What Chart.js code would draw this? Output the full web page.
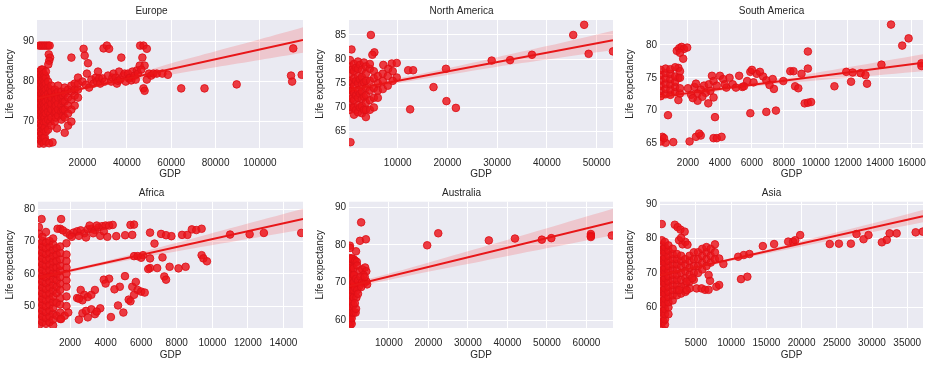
<!DOCTYPE html>
<html>
<head>
<meta charset="utf-8">
<script src="https://cdn.jsdelivr.net/npm/chart.js@4.4.1/dist/chart.umd.min.js"></script>
<style>
  body { margin: 0; background: #fff; width: 937px; height: 368px; position: relative; overflow: hidden; }
</style>
</head>
<body>
<script>
// GDP vs life expectancy, one regplot per continent
const regions = ["Europe", "North America", "South America", "Africa", "Australia", "Asia"];

// scatter points [GDP, life expectancy]
const europePts = [
  [500,89],[1300,89],[2100,89],[2900,89],[3700,89],[4500,89],[5200,89],
  [4800,86.8],[5400,86],[5000,85.2],[4600,84.3],
  [500,64.5],[500,66.5],[500,68.5],[500,70.5],[500,72],[500,73.5],[500,75],[500,76.5],[500,78],[500,79.5],[500,81],[500,82.5],
  [1000,65.5],[1000,67.5],[1000,69.5],[1000,71.5],[1000,73],[1000,74.5],[1000,76],[1000,77.5],[1000,79],[1000,80.5],[1000,82],
  [1500,65],[1500,67],[1500,69],[1500,71],[1500,72.5],[1500,74],[1500,75.5],[1500,77],[1500,78.5],[1500,80],[1500,81.5],[1500,83],
  [2000,65.5],[2000,67],[2000,69],[2000,71],[2000,72.5],[2000,74],[2000,75.5],[2000,77],[2000,78.5],[2000,80],[2000,81.5],[2000,83],
  [2500,64.5],[2500,66],[2500,68],[2500,70],[2500,71.5],[2500,73],[2500,74.5],[2500,76],[2500,77.5],[2500,79],[2500,80.5],[2500,82],
  [3000,66],[3000,68.5],[3000,71],[3000,72.5],[3000,74],[3000,75.5],[3000,77],[3000,78.5],[3000,80],[3000,81.5],
  [3500,65],[3500,67.5],[3500,70],[3500,72],[3500,73.5],[3500,75],[3500,76.5],[3500,78],[3500,79.5],[3500,81],[3500,82.5],
  [4500,68],[4500,70.5],[4500,72.5],[4500,74],[4500,75.5],[4500,77],[4500,78.5],[4500,80],
  [5000,64.6],[6500,64.8],[8500,68.3],
  [5500,70],[5500,72],[5500,73.5],[5500,75],[5500,76.5],[5500,78],
  [6000,69],[6000,71],[6000,73],[6000,74.5],[6000,76],[6000,77.5],[6000,79],
  [7500,70],[7500,72],[7500,73.5],[7500,75],[7500,76.5],[7500,78],
  [8000,71],[8000,72.5],[8000,74],[8000,75.5],[8000,77],
  [9000,71.5],[9000,73],[9000,74.5],[9000,76],[9000,77.5],[9000,79],
  [10500,70.5],[10500,72.5],[10500,74],[10500,76],[10500,77.5],
  [11200,71.5],[11200,73],[11200,75],[11200,76.5],
  [12000,67.2],[12000,71],[12000,73],[12000,75],[12000,77],[12000,78.5],
  [13500,69],[13500,72],[13500,74],[13500,76],[13500,78],
  [15000,70],[15000,73],[15000,75.5],[15000,77.5],[15000,79],[15000,86],
  [16500,74],[16500,76.5],[16500,78],[16500,79.5],
  [18000,76],[18000,78],[18000,79.5],[18000,81],
  [20500,88.2],[21000,86.5],[22500,84.6],[20000,80],[21500,79.2],[23000,78.5],[22000,82],[24000,80.5],
  [25000,79.5],[26000,81],[26500,80],[27000,82.5],[27500,80.8],[28000,79.5],[29000,80.8],[29500,88.3],
  [31000,89],[32000,88.2],[30000,80],[31500,81.5],[33000,80],[33500,81],[34000,82],[35000,81],
  [35500,79.5],[36000,80.2],[36500,82.5],[37500,86],[37000,80.5],[38500,81.5],[39000,82],[39500,80],
  [40500,82],[41000,80.8],[41500,81],[42000,80.3],[42500,82.5],[43500,81.5],[44000,80.5],[44500,82.8],
  [45000,82],[45800,84],[46000,89],[47500,89],[49000,88.2],[47000,86],[48000,84],[46500,83],
  [47500,78.3],[48000,77.7],[49000,80.5],[50000,82],[51000,81.5],[52000,82],[53500,82],[56000,82],[58500,81.7],
  [64500,78.3],[75000,78.3],[89500,79.3],[115000,88.3],[114000,81.5],[114500,80],[118800,81.7]
];
const northAmPts = [
  [700,82],[500,62.8],[4600,85],[5300,81.4],[4900,80.9],[7100,78.8],[8800,79.1],[9800,79.2],[8100,78],[9800,76.2],
  [12100,77.7],[13100,77.7],[12500,69.6],[17200,74.2],[19700,78],[19800,71.3],[21700,69.9],[28900,79.7],
  [32600,79.8],[37000,80.9],[45300,85],[47500,87.1],[48400,81.1],[53300,81.6],
  [400,69.5],[400,71],[400,72.5],[400,74],[400,75.5],[400,77],[400,78.5],[400,79.8],
  [800,70],[800,71.8],[800,73.5],[800,75.2],[800,77.8],
  [1200,68.5],[1200,70],[1200,71.5],[1200,73],[1200,74.5],[1200,76],[1200,77.5],[1200,79],
  [1600,69.5],[1600,72.5],[1600,75.5],[1600,78.2],
  [2000,69],[2000,70.5],[2000,72],[2000,73.5],[2000,75],[2000,76.5],[2000,78],[2000,79.5],
  [2400,70],[2400,72.8],[2400,75.8],[2400,78.8],
  [2800,68.8],[2800,70.3],[2800,71.8],[2800,73.3],[2800,74.8],[2800,76.3],[2800,77.8],
  [3200,69.5],[3200,72.2],[3200,75.2],[3200,79.3],
  [3600,68],[3600,69.5],[3600,71],[3600,72.5],[3600,74],[3600,75.5],[3600,77],[3600,78.5],
  [4400,69.5],[4400,71.5],[4400,73.5],[4400,75.5],[4400,78],[4400,79],
  [5200,70],[5200,72],[5200,74],[5200,76],[5200,77.5],
  [6000,72],[6000,73.5],[6000,75],[6000,76.5],
  [7000,73.8],[7000,75.5],[7000,77],[8000,74.5],[8000,76.5],[9000,75.5],[9000,77.5]
];
const southAmPts = [
  [400,66],[300,65.3],[600,65.1],[500,65.8],[750,69.3],[1080,65.2],
  [1300,79.1],[1450,79.5],[1600,79.7],[1750,79.4],[1950,79.6],[1500,78.8],[1700,77.9],
  [1400,76.5],[1400,75],[1400,71.6],
  [2100,65.3],[2500,66],[2800,66.2],[2700,66.5],[3270,71.1],[3600,65.8],[3800,65.8],[4100,66],[3690,69],
  [5900,69.6],[6900,69.8],[7500,70],[7375,73.3],[7960,74.5],[8400,76],[8600,76],[8700,73.7],[8900,73.4],
  [9100,75.6],[9300,71.1],[9500,71.2],[9700,71.3],[9500,79],[9500,76.4],
  [11160,73.7],[11900,75.9],[12300,75.8],[12200,74.4],[12800,75.7],[13100,75.4],[13200,74.1],
  [14100,77],[14700,83.1],[15400,79.9],[15800,81],[16600,77.2],[16600,76.8],
  [3000,73.8],[3300,74],[3500,75.3],[3600,74.5],[3800,73.8],[4000,75.3],[4200,74.8],[4400,73.5],
  [4600,75],[4800,74],[5000,73.5],[5200,75.3],[5400,73.6],[5700,74.5],[5900,75.9],[6100,74.3],
  [6300,75.6],[6500,75.9],[6700,75.2],[6900,74.6],[7100,73.9],[7300,74.8],[5500,73.7],[6000,76.2],
  [4300,74],[3400,73],[3100,72.7],[2800,73.2],[2600,72.6],[2400,73.6],[2200,72.4],[2600,71.5],
  [2900,72.1],[2300,71.9],[2000,73.4],[2500,74.1],[3600,72],
  [300,72.2],[300,73],[300,73.8],[300,74.6],[300,75.4],[300,76.2],
  [600,72.5],[600,73.3],[600,74.1],[600,74.9],[600,75.7],[600,76.4],
  [900,72.4],[900,73.2],[900,74],[900,74.8],[900,75.6],[900,76.3],
  [1200,72.8],[1200,73.6],[1200,74.4],[1200,75.2],[1200,76.6],
  [1500,72.6],[1500,73.4],[1500,75],[1500,76]
];
const africaPts = [
  [250,44],[250,45.8],[250,47.6],[250,49.4],[250,51.2],[250,53],[250,54.8],[250,56.6],[250,58.4],
  [250,60.2],[250,62],[250,63.8],[250,65.6],[250,67.4],[250,69.2],[250,72.5],[250,74.5],[400,77],
  [450,45],[450,46.8],[450,48.6],[450,50.4],[450,52.2],[450,54],[450,55.8],[450,57.6],[450,59.4],
  [450,61.2],[450,63],[450,64.8],[450,66.6],[450,68.4],[450,70.2],[450,71.5],
  [650,44.5],[650,46.3],[650,48.1],[650,49.9],[650,51.7],[650,53.5],[650,55.3],[650,57.1],[650,58.9],
  [650,60.7],[650,62.5],[650,64.3],[650,66.1],[650,67.9],[650,69.7],[650,73],
  [850,45],[850,46.8],[850,48.6],[850,50.4],[850,52.2],[850,54],[850,55.8],[850,57.6],[850,59.4],
  [850,61.2],[850,63],[850,64.8],[850,66.6],[850,68.4],[850,70.2],
  [1050,44],[1050,45.8],[1050,47.6],[1050,49.4],[1050,51.2],[1050,53],[1050,54.8],[1050,56.6],
  [1050,58.4],[1050,60.2],[1050,62],[1050,63.8],[1050,65.6],[1050,67.4],[1050,69.2],[1050,71],
  [1250,47],[1250,51],[1250,54],[1250,56],[1250,58],[1250,60],[1250,62],[1250,64],[1250,66],[1250,68],
  [1450,46],[1450,48],[1450,50.5],[1450,52.5],[1450,55],[1450,57],[1450,59],[1450,61],[1450,62.5],
  [1450,64.5],[1450,66.5],[1450,68.5],[1450,74],
  [1800,50],[1800,53],[1800,56],[1800,58],[1800,60],[1800,62],[1800,64],[1800,66],[1800,69.5],[1800,72.8],
  [1500,77],[1300,74],[1600,73.5],
  [2000,72],[2200,72.8],[2400,73.2],[2600,73.5],[2800,72.6],[3000,73.8],[3200,74],[3400,73.6],
  [3600,74.4],[3800,74.8],[4000,75],[4200,75],[4400,75.2],[2100,71.5],[2500,71.8],[2900,71.3],
  [3300,72.6],[3700,71.8],[3900,73.2],[4100,71.5],[3500,75],[3100,75],
  [4600,71.7],[5100,72],[5500,72.1],[5400,75.2],[5600,75.3],[6500,72.8],[6750,69.4],[7120,72.4],
  [7400,72],[7700,71.7],[8300,72.1],[8600,72.1],[8850,73.8],[9100,73.6],[9400,74],
  [9400,65.8],[9500,64.8],[9700,63.9],[5600,65.5],[5800,65.5],[6100,65.8],[6000,65],[6500,64.8],
  [6500,61.8],[6900,61.8],[6400,61.5],[7200,65.1],[7300,59.2],[7400,58.2],[7600,62.2],[8100,61.7],[8500,62.2],
  [5090,59.3],[4800,56],[4500,55.2],[4200,58.5],[3900,58.2],[4000,57],
  [5500,56],[5700,57.5],[5800,55],[5600,53.5],[6000,54.5],[6200,54.2],[5300,52],[5400,51.5],
  [2400,52.5],[2600,55],[2800,53.5],[3000,52.8],[3200,53.5],[3400,55],[2700,51.8],[2500,52.3],
  [2700,47.8],[2900,48.5],[3200,49],[3400,47.5],[3700,49.3],[3500,48.3],[2500,45.8],[3000,46.5],
  [4300,46.6],[5000,48],[4700,50.2],[1700,47],[1900,48],[1500,46],
  [11000,72.2],[12100,72.3],[12900,72.7],[15000,72.7]
];
const australiaPts = [
  [150,58.5],[150,60],[150,61.5],[150,63],[150,64.5],[150,66],[150,67.5],[150,69],[150,70.5],
  [150,72],[150,73.5],[150,75],[150,76.5],[150,79.8],[200,79.2],
  [400,59.5],[400,61],[400,62.5],[400,64],[400,65.5],[400,67],[400,68.5],[400,70],[400,71.5],[400,73],[400,74.5],
  [600,59],[600,60.5],[600,62],[600,63.5],[600,65],[600,66.5],[600,68],[600,69.5],[600,71],
  [600,72.5],[600,74],[600,76.3],
  [1100,62],[1100,64],[1100,66],[1100,68],[1100,70],[1100,72],[1100,73.8],[1100,76.2],
  [3000,86],[2700,81.1],[4200,81.5],[1700,78.3],[700,76.4],[1500,75.8],[1900,75.5],
  [2000,74.5],[2600,73],[3300,73.5],[4000,74],[4300,73],[3600,72],[1200,72],[1700,71],[2200,70.5],
  [2800,71.5],[3200,70],[3700,69.8],[4300,70.3],[4500,69.5],[3900,71.5],[2500,69],[1500,68.5],
  [2000,68],[3000,68.8],[1600,62],[1700,63],[1800,66],[1400,64.5],[2200,67],
  [19700,79.9],[22500,83.1],[35300,81.2],[41900,81.7],[48700,81.4],[51100,81.8],
  [61100,82.9],[61100,82.4],[61100,82.1],[66400,82.5]
];
const asiaPts = [
  [150,54],[150,55.5],[150,57],[150,58.5],[150,60],[150,61.5],[150,63],[150,64.5],[150,66],[150,67.5],
  [150,69],[150,70.5],[150,72],[150,73.5],[150,75],[150,76.5],[150,78],[150,79.5],[150,84.2],
  [400,56],[400,59],[400,62],[400,65],[400,68],[400,71],[400,74],[400,77],
  [600,55],[600,56.5],[600,58],[600,59.5],[600,61],[600,62.5],[600,64],[600,65.5],[600,67],[600,68.5],
  [600,70],[600,71.5],[600,73],[600,74.5],[600,76],[600,77.5],[600,79],
  [1100,58],[1100,60],[1100,61.5],[1100,63],[1100,64.5],[1100,66],[1100,67.5],[1100,69],[1100,70.5],
  [1100,72],[1100,73.5],[1100,75],[1100,76.5],[1100,78],
  [1700,62],[1700,63.5],[1700,65],[1700,66.5],[1700,68],[1700,69.5],[1700,71],[1700,72.5],[1700,74],[1700,75.5],[1700,77],
  [2300,63.5],[2300,65],[2300,66.5],[2300,68],[2300,69.5],[2300,71],[2300,72.5],[2300,74],[2300,75.5],
  [2900,64],[2900,66],[2900,68],[2900,70],[2900,72],[2900,73.5],[2900,75],
  [3500,64.5],[3500,66.5],[3500,68.5],[3500,70.5],[3500,72.5],[3500,74],
  [4100,65.5],[4100,67.5],[4100,69.5],[4100,71.5],[4100,73.5],[4100,75],
  [4700,68],[4700,70],[4700,72],[4700,74],[4700,76],
  [5300,70],[5300,72],[5300,74],[5300,76],[5900,71],[5900,73],[5900,75],[5900,77],
  [6500,72],[6500,74],[6500,76],[6500,77.5],[7100,73],[7100,75],[7100,77],[7700,74],[7700,76],[7700,78.3],
  [2000,84],[2400,83.3],[2800,82.6],[3400,82],[2600,79.5],[3100,78.3],[3500,79],[3800,78.2],[2900,80.2],
  [8300,74.2],[8900,72.6],[6800,69.4],[7000,67.7],[5100,65.5],[5800,65.5],[6300,65.1],[6800,65.1],
  [7900,66],[8300,66.5],[3700,67.5],[4500,68.5],[2600,65],[3700,65],
  [11000,74.7],[11400,68.2],[12300,68.9],[11800,75.2],[12600,75.5],[14500,77.8],[16100,78.4],
  [18100,79.1],[18800,79.1],[19100,79.5],[19800,81],[24000,78.4],[25300,78.5],[27000,78.5],
  [27800,81.3],[28800,79.8],[29500,81],[31400,78.9],[32100,79.6],[32500,81.5],[33500,81.5],
  [36200,81.8],[37200,82]
];

// axis ranges [min, max]
const europeX = [-500, 119400], europeY = [63.4, 95.4];
const northAmX = [200, 53300], northAmY = [61.6, 88.1];
const southAmX = [250, 16700], southAmY = [64.3, 83.8];
const africaX = [200, 15100], africaY = [43.2, 82.4];
const australiaX = [-75, 66700], australiaY = [57.9, 91.5];
const asiaX = [-100, 37240], asiaY = [54, 90.7];

// tick labels
const europeXTicks = [20000, 40000, 60000, 80000, 100000], europeYTicks = [70, 80, 90];
const northAmXTicks = [10000, 20000, 30000, 40000, 50000], northAmYTicks = [65, 70, 75, 80, 85];
const southAmXTicks = [2000, 4000, 6000, 8000, 10000, 12000, 14000, 16000], southAmYTicks = [65, 70, 75, 80];
const africaXTicks = [2000, 4000, 6000, 8000, 10000, 12000, 14000], africaYTicks = [50, 60, 70, 80];
const australiaXTicks = [10000, 20000, 30000, 40000, 50000, 60000], australiaYTicks = [60, 70, 80, 90];
const asiaXTicks = [5000, 10000, 15000, 20000, 25000, 30000, 35000], asiaYTicks = [60, 70, 80, 90];

// regression line ends and confidence band
const europeFit = [75.8, 90.4];
const europeBandX = [-500, 20000, 40000, 60000, 80000, 100000, 119400];
const europeBandLo = [75.3, 77.9, 80.1, 81.8, 83.6, 85.4, 87.2];
const europeBandHi = [76.3, 78.6, 81.3, 84.6, 87.6, 90.6, 93.6];
const northAmFit = [73.6, 83.9];
const northAmBandX = [200, 10000, 20000, 30000, 40000, 53300];
const northAmBandLo = [73.1, 75.0, 76.7, 78.4, 79.9, 81.9];
const northAmBandHi = [74.1, 76.0, 78.1, 80.4, 82.7, 85.9];
const southAmFit = [72.1, 77.3];
const southAmBandX = [250, 4000, 8000, 12000, 16700];
const southAmBandLo = [71.6, 73.0, 74.15, 75.0, 76.0];
const southAmBandHi = [72.6, 73.6, 74.95, 76.6, 78.6];
const africaFit = [58.8, 77.0];
const africaBandX = [200, 3000, 6000, 9000, 12000, 15100];
const africaBandLo = [58.2, 61.7, 65.0, 67.95, 70.8, 73.8];
const africaBandHi = [59.4, 62.7, 66.8, 71.15, 75.6, 80.2];
const australiaFit = [69.0, 86.1];
const australiaBandX = [-75, 15000, 30000, 45000, 66700];
const australiaBandLo = [68.4, 71.8, 74.9, 78.1, 82.6];
const australiaBandHi = [69.6, 73.8, 78.3, 82.9, 89.6];
const asiaFit = [69.3, 86.5];
const asiaBandX = [-100, 10000, 20000, 30000, 37240];
const asiaBandLo = [69.0, 73.5, 77.7, 81.8, 84.7];
const asiaBandHi = [69.6, 74.3, 79.3, 84.4, 88.3];

const FONT = "'Liberation Sans', Arial, sans-serif";
const TEXT = "#262626";

const panels = [
  { pts: europePts, xr: europeX, yr: europeY, xt: europeXTicks, yt: europeYTicks, fit: europeFit,
    bx: europeBandX, lo: europeBandLo, hi: europeBandHi, left: 0, top: 0, w: 310, h: 180, yw: 37, padR: 7 },
  { pts: northAmPts, xr: northAmX, yr: northAmY, xt: northAmXTicks, yt: northAmYTicks, fit: northAmFit,
    bx: northAmBandX, lo: northAmBandLo, hi: northAmBandHi, left: 310, top: 0, w: 310, h: 180, yw: 39, padR: 7 },
  { pts: southAmPts, xr: southAmX, yr: southAmY, xt: southAmXTicks, yt: southAmYTicks, fit: southAmFit,
    bx: southAmBandX, lo: southAmBandLo, hi: southAmBandHi, left: 620, top: 0, w: 317, h: 180, yw: 40, padR: 14 },
  { pts: africaPts, xr: africaX, yr: africaY, xt: africaXTicks, yt: africaYTicks, fit: africaFit,
    bx: africaBandX, lo: africaBandLo, hi: africaBandHi, left: 0, top: 180, w: 310, h: 188, yw: 38, padR: 7 },
  { pts: australiaPts, xr: australiaX, yr: australiaY, xt: australiaXTicks, yt: australiaYTicks, fit: australiaFit,
    bx: australiaBandX, lo: australiaBandLo, hi: australiaBandHi, left: 310, top: 180, w: 310, h: 188, yw: 39, padR: 7 },
  { pts: asiaPts, xr: asiaX, yr: asiaY, xt: asiaXTicks, yt: asiaYTicks, fit: asiaFit,
    bx: asiaBandX, lo: asiaBandLo, hi: asiaBandHi, left: 620, top: 180, w: 317, h: 188, yw: 40, padR: 14 }
];

// seaborn darkgrid background
const bgPlugin = {
  id: "bg",
  beforeDraw(chart) {
    const a = chart.chartArea, c = chart.ctx;
    c.save();
    c.fillStyle = "#EAEAF2";
    c.fillRect(a.left, a.top, a.right - a.left, a.bottom - a.top);
    c.restore();
  }
};

function makeChart(p, i) {
  const cv = document.createElement("canvas");
  cv.width = p.w;
  cv.height = p.h;
  cv.style.cssText = `position:absolute;left:${p.left}px;top:${p.top}px;width:${p.w}px;height:${p.h}px`;
  document.body.appendChild(cv);
  const firstRow = p.top === 0;
  const font = { family: FONT, size: 10 };

  new Chart(cv, {
    type: "scatter",
    data: {
      datasets: [
        { data: p.xr.map((x, k) => ({ x, y: p.fit[k] })), showLine: true, borderColor: "rgb(232,22,24)",
          borderWidth: 2, pointRadius: 0, clip: 0 },
        { data: p.bx.map((x, k) => ({ x, y: p.hi[k] })), showLine: true, borderWidth: 0, pointRadius: 0,
          backgroundColor: "rgba(255,0,0,0.15)", fill: "+1", tension: 0.3, clip: 0 },
        { data: p.bx.map((x, k) => ({ x, y: p.lo[k] })), showLine: true, borderWidth: 0, pointRadius: 0,
          tension: 0.3, clip: 0 },
        { data: p.pts.map(([x, y]) => ({ x, y })), pointRadius: 3.8, borderWidth: 1,
          backgroundColor: "rgba(236,20,26,0.82)", borderColor: "rgba(222,16,24,0.85)", clip: 0 }
      ]
    },
    options: {
      responsive: false,
      animation: false,
      events: [],
      layout: { padding: { right: p.padR, bottom: firstRow ? 0 : 7 } },
      plugins: {
        legend: { display: false },
        tooltip: { enabled: false },
        title: {
          display: true, text: regions[i], color: TEXT,
          font: { family: FONT, size: 10, weight: "normal" },
          padding: firstRow ? { top: 5, bottom: 3 } : { top: 7.3, bottom: 2.4 }
        }
      },
      scales: {
        x: {
          type: "linear", min: p.xr[0], max: p.xr[1],
          border: { display: false },
          grid: { color: "#ffffff", lineWidth: 1, drawTicks: false },
          ticks: { color: TEXT, font, padding: 9, maxRotation: 0, autoSkip: false, callback: v => String(v) },
          afterBuildTicks: s => { s.ticks = p.xt.map(v => ({ value: v })); },
          afterFit: s => { s.height = firstRow ? 32 : 33; },
          title: { display: true, text: "GDP", color: TEXT, font, padding: { top: 0, bottom: 0 } }
        },
        y: {
          type: "linear", min: p.yr[0], max: p.yr[1],
          border: { display: false },
          grid: { color: "#ffffff", lineWidth: 1, drawTicks: false },
          ticks: { color: TEXT, font, padding: 3, callback: v => String(v) },
          afterBuildTicks: s => { s.ticks = p.yt.map(v => ({ value: v })); },
          afterFit: s => { s.width = p.yw; },
          title: { display: true, text: "Life expectancy", color: TEXT, font, padding: { top: 4, bottom: 0 } }
        }
      }
    },
    plugins: [bgPlugin]
  });
}

panels.forEach(makeChart);
</script>
</body>
</html>
